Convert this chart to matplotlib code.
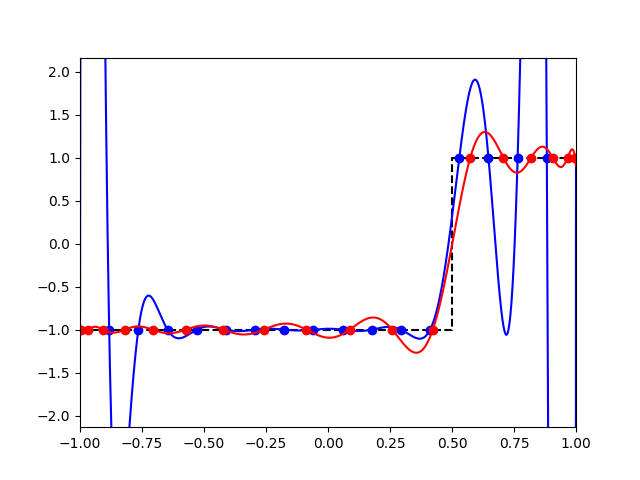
import numpy as np
import matplotlib
matplotlib.use('Agg')
import matplotlib.pyplot as plt

# equispaced nodes (18 points on [-1, 1])
equi_x = [-1.0, -0.88235, -0.76471, -0.64706, -0.52941, -0.41176, -0.29412,
          -0.17647, -0.05882, 0.05882, 0.17647, 0.29412, 0.41176, 0.52941,
          0.64706, 0.76471, 0.88235, 1.0]
equi_y = [-1, -1, -1, -1, -1, -1, -1, -1, -1, -1, -1, -1, -1, 1, 1, 1, 1, 1]

# chebyshev nodes (18 points)
cheb_x = [-0.99619, -0.96593, -0.90631, -0.81915, -0.70711, -0.57358, -0.42262,
          -0.25882, -0.08716, 0.08716, 0.25882, 0.42262, 0.57358, 0.70711,
          0.81915, 0.90631, 0.96593, 0.99619]
cheb_y = [-1, -1, -1, -1, -1, -1, -1, -1, -1, -1, -1, -1, 1, 1, 1, 1, 1, 1]

# step function
step_x = [-1.0, 0.5, 0.5, 1.0]
step_y = [-1, -1, 1, 1]

xs = np.linspace(-1, 1, 2000)
p_equi = np.polynomial.Chebyshev.fit(equi_x, equi_y, len(equi_x) - 1)
p_cheb = np.polynomial.Chebyshev.fit(cheb_x, cheb_y, len(cheb_x) - 1)

fig, ax = plt.subplots(figsize=(6.4, 4.8), dpi=100)
ax.plot(step_x, step_y, 'k--')
ax.plot(xs, p_equi(xs), 'b-')
ax.plot(equi_x, equi_y, 'bo')
ax.plot(xs, p_cheb(xs), 'r-')
ax.plot(cheb_x, cheb_y, 'ro')
ax.set_xlim(-1, 1)
ax.set_ylim(-2.135, 2.165)

fig.savefig('out.png')
